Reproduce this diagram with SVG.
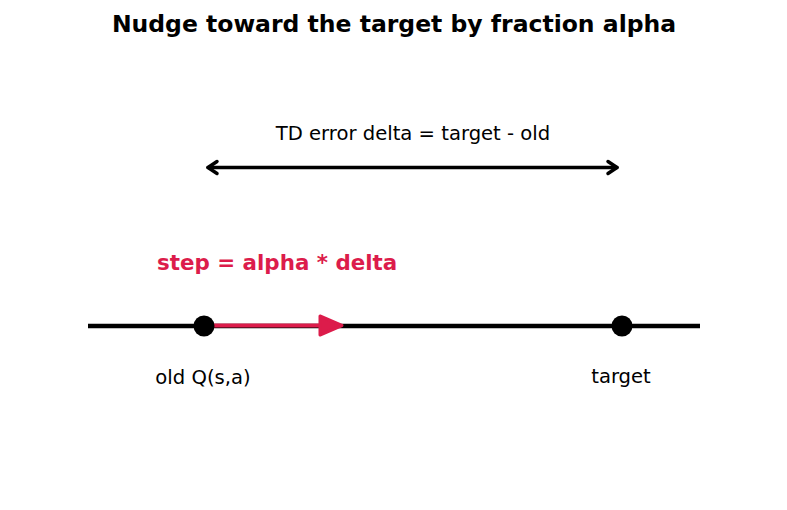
<svg xmlns="http://www.w3.org/2000/svg" width="787" height="510" viewBox="0 0 787 510">
<style>
text{font-family:"DejaVu Sans",sans-serif;fill:#000}
.lbl{font-size:19.6px;text-anchor:middle}
</style>
<rect width="787" height="510" fill="#fff"/>
<text x="394" y="32" font-size="23.5" font-weight="bold" text-anchor="middle">Nudge toward the target by fraction alpha</text>
<g id="connectors">
<line id="axis" x1="88" y1="326" x2="700" y2="326" stroke="#000" stroke-width="4.5"/>
<g id="td-arrow" fill="none" stroke="#000" stroke-width="3.5" stroke-linecap="round" stroke-linejoin="round">
<line x1="208" y1="167.5" x2="617" y2="167.5"/>
<polyline points="217,161.5 208,167.5 217,173.5"/>
<polyline points="608,161.5 617,167.5 608,173.5"/>
</g>
<g id="step-arrow">
<line x1="204" y1="325.5" x2="322" y2="325.5" stroke="#dc1c4b" stroke-width="4"/>
<polygon points="320,316 342,325.5 320,335" fill="#dc1c4b" stroke="#dc1c4b" stroke-width="3" stroke-linejoin="round"/>
</g>
</g>
<g id="old"><circle cx="204" cy="326" r="10.5" fill="#000"/><text class="lbl" x="203" y="384">old Q(s,a)</text></g>
<g id="target"><circle cx="622" cy="326" r="10.5" fill="#000"/><text class="lbl" x="621" y="383">target</text></g>
<text class="lbl" x="413" y="140">TD error delta = target - old</text>
<text x="157" y="270" font-size="21.4" font-weight="bold" style="fill:#dc1c4b">step = alpha * delta</text>
</svg>
